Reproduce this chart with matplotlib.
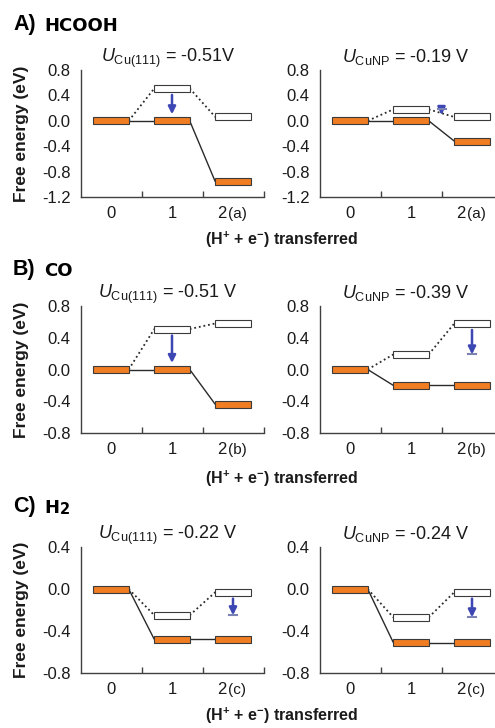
import matplotlib
matplotlib.use('Agg')
import matplotlib.pyplot as plt

plt.rcParams['font.family'] = ['Liberation Sans', 'DejaVu Sans']
plt.rcParams['mathtext.fontset'] = 'custom'
plt.rcParams['mathtext.rm'] = 'Liberation Sans'
plt.rcParams['mathtext.it'] = 'Liberation Sans:italic'
plt.rcParams['mathtext.bf'] = 'Liberation Sans:bold'

# ---------------- data ----------------
steps = [0, 1, 2]
step_labels = ['0', '1', '2']
step_suffix = ['(a)', '(b)', '(c)']

section_letters = ['A)', 'B)', 'C)']
section_names = ['HCOOH', 'CO', 'H']
section_subs = ['', '', '2']
surfaces = ['Cu(111)', 'CuNP']

# filled (orange) levels, eV, steps 0,1,2
hcooh_cu111 = [0.0, 0.0, -0.96]
hcooh_cunp = [0.0, 0.0, -0.32]
co_cu111 = [0.0, 0.0, -0.44]
co_cunp = [0.0, -0.20, -0.20]
h2_cu111 = [0.0, -0.48, -0.48]
h2_cunp = [0.0, -0.51, -0.51]

# open (white) levels, eV, steps 1,2
hcooh_cu111_open = [0.51, 0.06]
hcooh_cunp_open = [0.18, 0.06]
co_cu111_open = [0.51, 0.58]
co_cunp_open = [0.19, 0.58]
h2_cu111_open = [-0.25, -0.03]
h2_cunp_open = [-0.27, -0.03]

# limiting potentials
hcooh_U = [-0.51, -0.19]
co_U = [-0.51, -0.39]
h2_U = [-0.22, -0.24]
hcooh_U_text = ['-0.51V', '-0.19 V']
co_U_text = ['-0.51 V', '-0.39 V']
h2_U_text = ['-0.22 V', '-0.24 V']

# arrow: x position, index of open level it starts from, cap position
hcooh_arrow_x = [1, 1.5]
co_arrow_x = [1, 2]
h2_arrow_x = [2, 2]
hcooh_arrow_src = [0, 0]
co_arrow_src = [0, 1]
h2_arrow_src = [1, 1]
hcooh_cap = ['none', 'start']
co_cap = ['none', 'end']
h2_cap = ['end', 'end']

hcooh_yticks = [0.8, 0.4, 0.0, -0.4, -0.8, -1.2]
hcooh_ylabels = ['0.8', '0.4', '0.0', '-0.4', '-0.8', '-1.2']
co_yticks = [0.8, 0.4, 0.0, -0.4, -0.8]
co_ylabels = ['0.8', '0.4', '0.0', '-0.4', '-0.8']
h2_yticks = [0.4, 0.0, -0.4, -0.8]
h2_ylabels = ['0.4', '0.0', '-0.4', '-0.8']

rows = [
    dict(filled=[hcooh_cu111, hcooh_cunp], open_=[hcooh_cu111_open, hcooh_cunp_open],
         U=hcooh_U, Ut=hcooh_U_text, ax_x=hcooh_arrow_x, src=hcooh_arrow_src, cap=hcooh_cap,
         yt=hcooh_yticks, yl=hcooh_ylabels),
    dict(filled=[co_cu111, co_cunp], open_=[co_cu111_open, co_cunp_open],
         U=co_U, Ut=co_U_text, ax_x=co_arrow_x, src=co_arrow_src, cap=co_cap,
         yt=co_yticks, yl=co_ylabels),
    dict(filled=[h2_cu111, h2_cunp], open_=[h2_cu111_open, h2_cunp_open],
         U=h2_U, Ut=h2_U_text, ax_x=h2_arrow_x, src=h2_arrow_src, cap=h2_cap,
         yt=h2_yticks, yl=h2_ylabels),
]

# ---------------- style ----------------
ORANGE = '#F07D22'
EDGE = '#3A3A3A'
LINE = '#2A2A2A'
ARROW = '#3D47B3'
CAP = '#7A82B5'
SPINE = '#404040'
TXT = '#1A1A1A'

W, H = 495, 728
fig = plt.figure(figsize=(W / 100, H / 100), dpi=100)

row_tops = [70, 306, 547]
row_heights = [127, 127, 126]
col_lefts = [80.5, 319.5]
col_width = 183
section_baselines = [30, 275, 512]
xlabel_centers = [240, 479, 716]
title_x = [0.478, 0.47]

bw = 0.58


def draw_panel(ax, r, c, row):
    filled = row['filled'][c]
    open_ = row['open_'][c]
    yt = row['yt']
    ymin, ymax = yt[-1], yt[0]
    ax.set_xlim(-0.5, 2.5)
    ax.set_ylim(ymin, ymax)
    ppd = ax.bbox.height / (ymax - ymin)
    ppx = ax.bbox.width / 3.0
    thick = 7.0 / ppd
    pad = 3.0 / ppd

    for i in range(2):
        ax.plot([steps[i] + bw / 2, steps[i + 1] - bw / 2], [filled[i], filled[i + 1]],
                color=LINE, lw=1.0, zorder=1, solid_capstyle='butt')
    dl = [filled[0]] + open_
    for i in range(2):
        ax.plot([steps[i] + bw / 2, steps[i + 1] - bw / 2], [dl[i], dl[i + 1]],
                color=LINE, lw=1.3, ls=(0, (1, 1.6)), zorder=1)

    ax.bar(steps, [thick] * 3, bottom=[v - thick / 2 for v in filled], width=bw,
           color=ORANGE, edgecolor=EDGE, lw=0.8, zorder=3)
    ax.bar(steps[1:], [thick] * 2, bottom=[v - thick / 2 for v in open_], width=bw,
           color='white', edgecolor=EDGE, lw=0.8, zorder=3)

    # potential arrow
    x = row['ax_x'][c]
    start = open_[row['src'][c]]
    end = start + row['U'][c]
    cap = row['cap'][c]
    y0 = start if cap == 'start' else start - thick / 2 - pad
    y1 = end if cap == 'end' else end + thick / 2 + pad
    ax.annotate('', xy=(x, y1), xytext=(x, y0),
                arrowprops=dict(arrowstyle='-|>', color=ARROW, lw=1.8, mutation_scale=11,
                                shrinkA=0, shrinkB=0), zorder=4)
    if cap != 'none':
        cy = start if cap == 'start' else end
        hw = 4.0 / ppx
        ax.plot([x - hw, x + hw], [cy, cy], color=CAP, lw=1.5, zorder=4)

    # axes styling
    for s in ['top', 'right']:
        ax.spines[s].set_visible(False)
    for s in ['left', 'bottom']:
        ax.spines[s].set_color(SPINE)
        ax.spines[s].set_linewidth(1.0)
    ax.set_yticks(yt)
    ax.set_yticklabels(row['yl'], fontsize=12, color=TXT)
    ax.tick_params(axis='y', length=0, pad=7)
    ax.set_yticks([ymax], minor=True)
    ax.tick_params(axis='y', which='minor', direction='in', length=5, color=SPINE, width=1)
    ax.set_xticks([0.5, 1.5, 2.5])
    ax.set_xticklabels([])
    ax.tick_params(axis='x', direction='in', length=4.5, color=SPINE, width=1)

    # category labels
    for i in range(2):
        ax.annotate(step_labels[i], xy=(steps[i], 0), xycoords=('data', 'axes fraction'),
                    xytext=(0, -12.2), textcoords='offset points', ha='center', va='center',
                    fontsize=12, color=TXT)
    t2 = ax.annotate(step_labels[2], xy=(steps[2], 0), xycoords=('data', 'axes fraction'),
                     xytext=(-8, -12.2), textcoords='offset points', ha='center', va='center',
                     fontsize=12, color=TXT)
    ax.annotate(step_suffix[r], xy=(1, 0.5), xycoords=t2, xytext=(1, 0),
                textcoords='offset points', ha='left', va='center', fontsize=11, color=TXT)

    # title
    ax.text(title_x[c], 1 + 8.0 / ax.bbox.height,
            r'$\mathit{U}_{\mathrm{' + surfaces[c] + r'}}$ = ' + row['Ut'][c],
            transform=ax.transAxes, ha='center', va='baseline', fontsize=13, color=TXT)


for r, row in enumerate(rows):
    top, hgt = row_tops[r], row_heights[r]
    for c in range(2):
        ax = fig.add_axes([col_lefts[c] / W, 1 - (top + hgt) / H, col_width / W, hgt / H])
        draw_panel(ax, r, c, row)
    # section header
    t = fig.text(13 / W, 1 - section_baselines[r] / H, section_letters[r], fontsize=15.5,
                 fontweight='bold', va='baseline', color='black')
    tn = plt.annotate(section_names[r], xy=(1, 0), xycoords=t, xytext=(6, 0),
                      textcoords='offset points', ha='left', va='bottom', fontsize=13,
                      fontweight='bold', family='DejaVu Sans', annotation_clip=False)
    if section_subs[r]:
        plt.annotate(section_subs[r], xy=(1, 0), xycoords=tn, xytext=(0.5, 0),
                     textcoords='offset points', ha='left', va='bottom', fontsize=10.5,
                     fontweight='bold', family='DejaVu Sans', annotation_clip=False)
    # y label
    fig.text(21.5 / W, 1 - (top + hgt / 2) / H, 'Free energy (eV)', rotation=90,
             ha='center', va='center', fontsize=12.5, fontweight='bold', color=TXT)
    # x label
    fig.text(282 / W, 1 - xlabel_centers[r] / H,
             r'(H$^{\mathbf{+}}$ + e$^{\mathbf{-}}$) transferred',
             ha='center', va='center', fontsize=11.5, fontweight='bold', color=TXT)

fig.savefig('out.png', dpi=100)
